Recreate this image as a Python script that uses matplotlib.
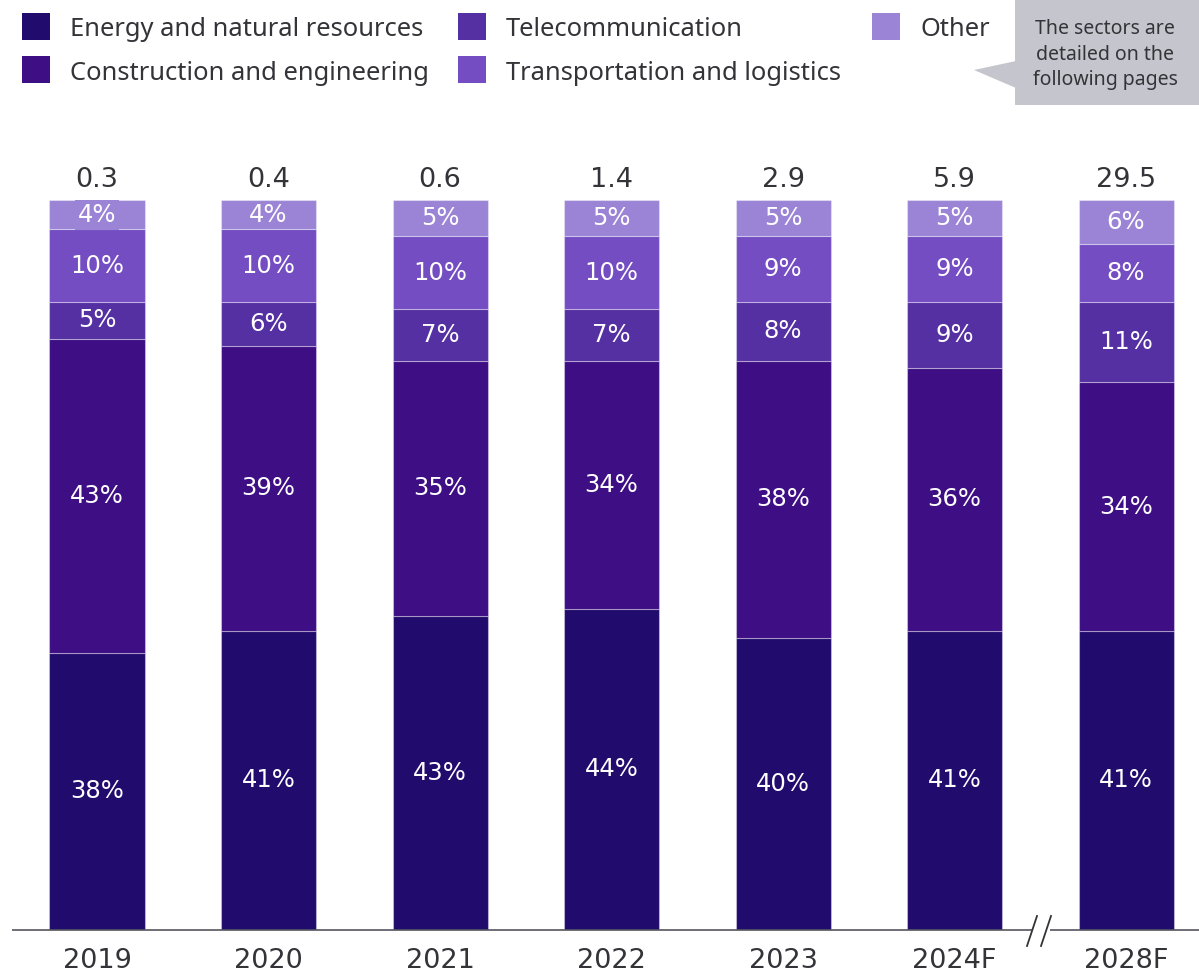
import matplotlib
matplotlib.use("Agg")
import matplotlib.pyplot as plt
from matplotlib.patches import Rectangle, Polygon
from matplotlib.lines import Line2D

years = ["2019", "2020", "2021", "2022", "2023", "2024F", "2028F"]
totals = ["0.3", "0.4", "0.6", "1.4", "2.9", "5.9", "29.5"]
sectors = ["Energy and natural resources", "Construction and engineering",
           "Telecommunication", "Transportation and logistics", "Other"]
energy = [38, 41, 43, 44, 40, 41, 41]
construction = [43, 39, 35, 34, 38, 36, 34]
telecom = [5, 6, 7, 7, 8, 9, 11]
transport = [10, 10, 10, 10, 9, 9, 8]
other = [4, 4, 5, 5, 5, 5, 6]
series = [energy, construction, telecom, transport, other]
colors = ["#210c6e", "#3e0e84", "#5530a2", "#744dc3", "#9b84d6"]

NUMFONT = ["DejaVu Sans"]
TXTFONT = ["Noto Sans", "DejaVu Sans"]
plt.rcParams["font.family"] = TXTFONT
TXT = "#333338"

W, H = 1199, 974
fig = plt.figure(figsize=(W / 100, H / 100), dpi=100)

def fx(px):
    return px / W

def fy(py):
    return 1 - py / H

# axes: y=0 at pixel 930, y=100 at pixel 200
ax = fig.add_axes([0, fy(930), 1, fy(200) - fy(930)])
x0px, step = 97, 171.5
ax.set_xlim(-x0px / step, (W - x0px) / step)
ax.set_ylim(0, 100)
ax.axis("off")

xs = list(range(len(years)))
bw = 95 / step
bottoms = [0] * len(years)
for s, c in zip(series, colors):
    ax.bar(xs, s, bottom=bottoms, width=bw, color=c, edgecolor=(1, 1, 1, 0.35),
           linewidth=0.8)
    for i, v in enumerate(s):
        yc = bottoms[i] + v / 2
        kw = {}
        if s is other and i == 0:
            kw["bbox"] = dict(boxstyle="square,pad=0.12", facecolor=c, edgecolor="none")
        ax.text(i, yc, f"{v}%", ha="center", va="center", color="white",
                fontsize=17.5, family=NUMFONT, **kw)
    bottoms = [b + v for b, v in zip(bottoms, s)]

for i, t in enumerate(totals):
    ax.text(i, 102.7, t, ha="center", va="center", color=TXT, fontsize=19.5,
            family=NUMFONT, clip_on=False)
    ax.text(i, -4.3, years[i], ha="center", va="center", color=TXT, fontsize=19.5,
            family=NUMFONT, clip_on=False)

# baseline with break
ax.plot([(12 - x0px) / step, (1032 - x0px) / step], [0, 0], color="#555560",
        lw=1.2, clip_on=False, solid_capstyle="butt")
ax.plot([(1050 - x0px) / step, (W - x0px) / step], [0, 0], color="#555560",
        lw=1.2, clip_on=False, solid_capstyle="butt")
for dx in (1032, 1046):
    fig.add_artist(Line2D([fx(dx - 5), fx(dx + 5)], [fy(946), fy(916)],
                          color="#333338", lw=1.3))

# legend
leg = [(22, 27, 0), (22, 70, 1), (458, 27, 2), (458, 70, 3), (872, 27, 4)]
for lx, ly, k in leg:
    fig.add_artist(Rectangle((fx(lx), fy(ly + 13)), fx(28), 27 / H,
                             facecolor=colors[k], edgecolor="none"))
    fig.text(fx(lx + 48), fy(ly + 3), sectors[k], ha="left", va="center",
             color=TXT, fontsize=18.4)

# callout
fig.add_artist(Rectangle((fx(1015), fy(105)), fx(W - 1015), 105 / H,
                         facecolor="#c5c5cd", edgecolor="none"))
fig.add_artist(Polygon([(fx(1016), fy(61)), (fx(974), fy(70)), (fx(1016), fy(88))],
                       closed=True, facecolor="#c5c5cd", edgecolor="none"))
for j, line in enumerate(["The sectors are", "detailed on the", "following pages"]):
    fig.text(fx(1105), fy(29 + j * 25.5), line, ha="center", va="center",
             color=TXT, fontsize=14)

fig.savefig("out.png", dpi=100)
